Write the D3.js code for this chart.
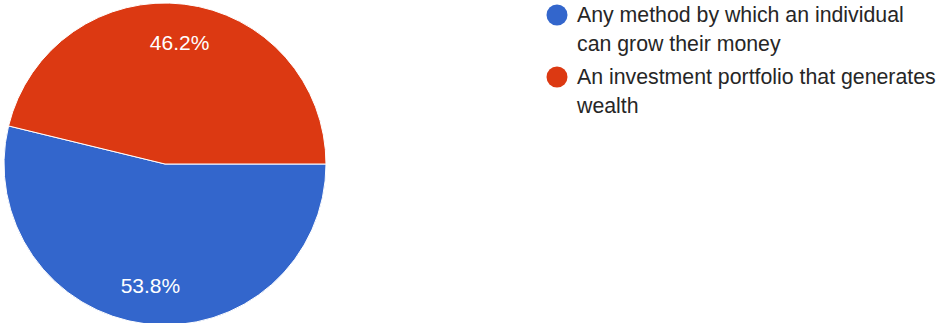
<!DOCTYPE html>
<html>
<head>
<meta charset="utf-8">
<script src="https://cdn.jsdelivr.net/npm/d3@7"></script>
<style>
  html, body { margin: 0; padding: 0; background: #fff; }
  svg { display: block; font-family: "Liberation Sans", Arial, sans-serif; }
</style>
</head>
<body>
<svg id="chart" width="939" height="323"></svg>
<script>
// Survey answers and their shares (percent)
const categories = [
  ["Any method by which an individual", "can grow their money"],
  ["An investment portfolio that generates", "wealth"]
];
const values = [53.8, 46.2];
const colors = ["#3366cc", "#dc3912"];

const svg = d3.select("#chart");
const cx = 165, cy = 164, radius = 161;

const pie = d3.pie()
  .sort(null)
  .value(d => d)
  .startAngle(Math.PI / 2)
  .endAngle(Math.PI / 2 + 2 * Math.PI);

const arc = d3.arc().innerRadius(0).outerRadius(radius);
const labelArc = d3.arc().innerRadius(radius * 0.76).outerRadius(radius * 0.76);

const g = svg.append("g").attr("transform", `translate(${cx},${cy})`);
const slices = pie(values);

g.selectAll("path.slice")
  .data(slices)
  .join("path")
  .attr("class", "slice")
  .attr("d", arc)
  .attr("fill", (d, i) => colors[i])
  .attr("stroke", "#fff")
  .attr("stroke-width", 1);

g.selectAll("text.pct")
  .data(slices)
  .join("text")
  .attr("class", "pct")
  .attr("transform", d => `translate(${labelArc.centroid(d)})`)
  .attr("text-anchor", "middle")
  .attr("dominant-baseline", "central")
  .attr("fill", "#fff")
  .attr("font-size", 21)
  .text(d => d.value.toFixed(1) + "%");

// Legend
const legend = svg.append("g").attr("transform", "translate(557,15)");
const item = legend.selectAll("g.item")
  .data(categories)
  .join("g")
  .attr("class", "item")
  .attr("transform", (d, i) => `translate(0,${i * 62})`);

item.append("circle")
  .attr("r", 10.5)
  .attr("fill", (d, i) => colors[i]);

item.append("text")
  .attr("fill", "#262626")
  .attr("font-size", 21.3)
  .selectAll("tspan")
  .data(d => d)
  .join("tspan")
  .attr("x", 20)
  .attr("y", (d, j) => 7 + j * 29)
  .text(d => d);
</script>
</body>
</html>
